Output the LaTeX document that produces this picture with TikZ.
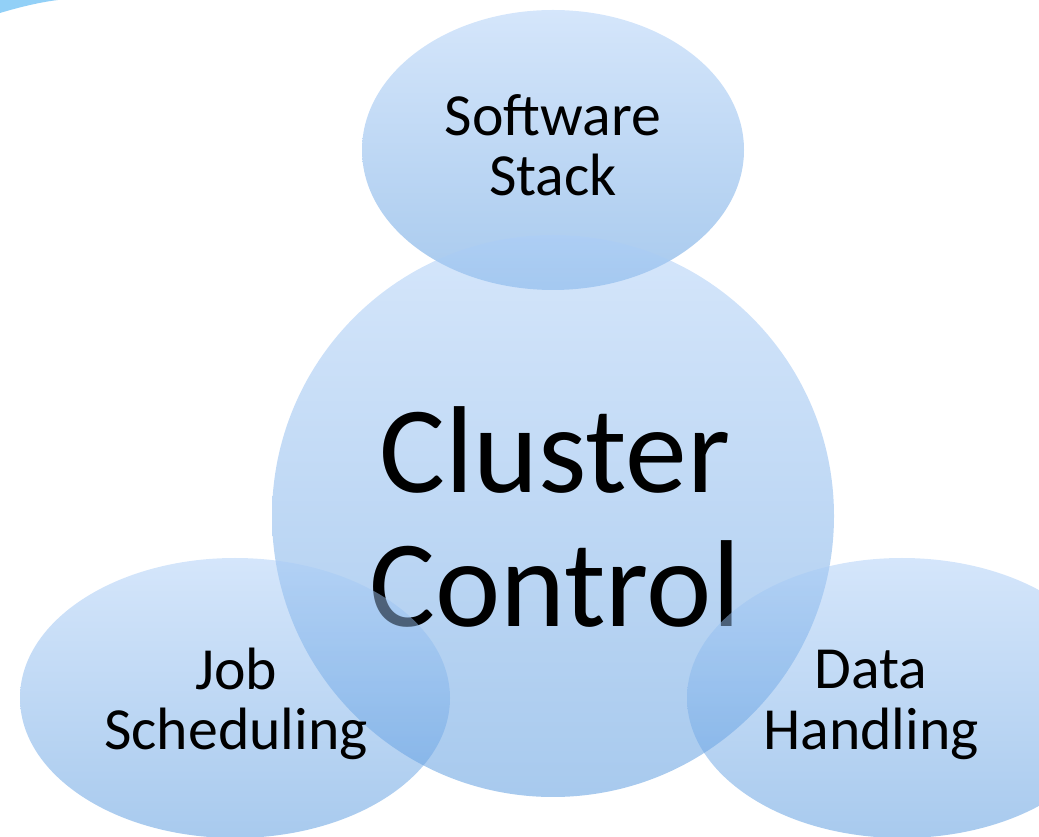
\documentclass[tikz,border=0pt]{standalone}
\usepackage{fontspec}
\setmainfont{Carlito}
\usepackage{tikz}
\usetikzlibrary{shapes.geometric}

\definecolor{blobtop}{RGB}{171,205,247}
\definecolor{blobbottom}{RGB}{81,149,221}
\definecolor{skyarc}{RGB}{146,208,247}

\tikzset{
    blob/.style={ellipse, draw=none, inner sep=0pt, top color=blobtop, bottom color=blobbottom, fill opacity=0.5},
    smalltext/.style={align=center, font=\fontsize{42.5}{43}\selectfont},
    bigtext/.style={align=center, font=\fontsize{88}{95.5}\selectfont}
}

\begin{document}
\begin{tikzpicture}
        \path [use as bounding box, clip] (0, 0) rectangle (25.975, 20.925);

        % corner swoosh
        \fill [skyarc] (0, 20.925) -- (0, 20.6) .. controls (0.5, 20.75) and (1, 20.87) .. (1.45, 20.925) -- cycle;

        \node [blob, minimum width=9.55cm, minimum height=7cm] (stack) at (13.825, 17.175) {};
        \node [smalltext] (stacktext) at (13.825, 17.3) {Software\\Stack};

        \node [blob, minimum width=14.05cm, minimum height=14.05cm] (cluster) at (13.825, 8.025) {};
        \node [bigtext] (clustertext) at (13.875, 8.0) {Cluster\\Control};

        \node [blob, minimum width=10.75cm, minimum height=7cm] (jobs) at (5.875, 3.475) {};
        \node [smalltext] (jobstext) at (5.9, 3.33) {Job\\Scheduling};

        \node [blob, minimum width=10.75cm, minimum height=7cm] (data) at (22.55, 3.475) {};
        \node [smalltext] (datatext) at (21.775, 3.3) {Data\\Handling};
    \end{tikzpicture}
\end{document}
